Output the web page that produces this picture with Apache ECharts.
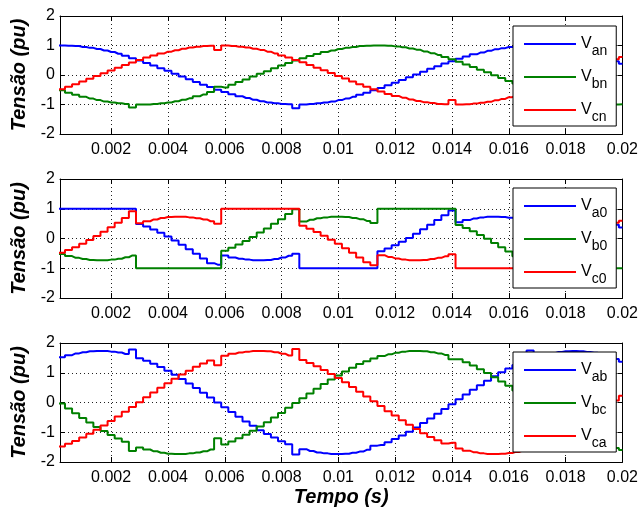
<!DOCTYPE html>
<html><head><meta charset="utf-8">
<script src="https://cdn.jsdelivr.net/npm/echarts@6/dist/echarts.min.js"></script>
<style>html,body{margin:0;padding:0;background:#fff}#c{width:641px;height:513px}</style>
</head><body><div id="c"></div>
<script>
// time samples (s)
const time = [0,0.00025,0.0005,0.00075,0.001,0.00125,0.0015,0.00175,0.002,0.00225,
0.0025,0.00275,0.003,0.00325,0.0035,0.00375,0.004,0.00425,0.0045,0.00475,
0.005,0.00525,0.0055,0.00575,0.006,0.00625,0.0065,0.00675,0.007,0.00725,
0.0075,0.00775,0.008,0.00825,0.0085,0.00875,0.009,0.00925,0.0095,0.00975,
0.01,0.01025,0.0105,0.01075,0.011,0.01125,0.0115,0.01175,0.012,0.01225,
0.0125,0.01275,0.013,0.01325,0.0135,0.01375,0.014,0.01425,0.0145,0.01475,
0.015,0.01525,0.0155,0.01575,0.016,0.01625,0.0165,0.01675,0.017,0.01725,
0.0175,0.01775,0.018,0.01825,0.0185,0.01875,0.019,0.01925,0.0195,0.01975,0.02];

// Panel 1: phase voltages
const vAn = [1.00,1.00,0.99,0.98,0.95,0.92,0.88,0.83,0.78,0.72,
0.65,0.57,0.49,0.41,0.32,0.23,0.14,0.04,-0.05,-0.14,
-0.24,-0.33,-0.41,-0.50,-0.58,-0.65,-0.72,-0.78,-0.84,-0.89,
-0.93,-0.96,-0.98,-0.99,-1.13,-1.00,-0.98,-0.96,-0.93,-0.90,
-0.85,-0.80,-0.74,-0.67,-0.60,-0.52,-0.44,-0.35,-0.26,-0.17,
-0.08,0.02,0.11,0.21,0.30,0.39,0.47,0.55,0.63,0.70,
0.76,0.82,0.87,0.91,0.95,0.97,0.99,1.08,1.00,0.99,
0.97,0.95,0.91,0.87,0.82,0.76,0.69,0.62,0.55,0.47,0.38];
const vBn = [-0.43,-0.52,-0.60,-0.67,-0.74,-0.80,-0.85,-0.90,-0.93,-0.96,
-0.98,-1.10,-1.00,-1.00,-0.98,-0.96,-0.93,-0.89,-0.84,-0.79,
-0.72,-0.66,-0.58,-0.40,-0.42,-0.33,-0.24,-0.15,-0.05,0.04,
0.13,0.23,0.32,0.41,0.49,0.57,0.64,0.71,0.78,0.83,
0.88,0.92,0.95,0.98,0.99,1.00,1.00,0.99,0.97,0.94,
0.90,0.86,0.80,0.74,0.68,0.61,0.53,0.45,0.36,0.27,
0.18,0.09,-0.01,-0.10,-0.20,-0.29,-0.38,-0.46,-0.54,-0.62,
-0.69,-0.76,-0.81,-0.87,-0.91,-0.94,-0.97,-0.99,-1.00,-1.00,-0.99];
const vCn = [-0.56,-0.48,-0.40,-0.31,-0.22,-0.13,-0.03,0.06,0.15,0.25,
0.34,0.42,0.51,0.59,0.66,0.73,0.79,0.84,0.89,0.93,
0.96,0.98,0.99,0.85,1.00,0.98,0.96,0.93,0.89,0.85,
0.79,0.73,0.66,0.59,0.51,0.43,0.34,0.25,0.16,0.07,
-0.03,-0.12,-0.22,-0.31,-0.40,-0.48,-0.56,-0.64,-0.71,-0.77,
-0.83,-0.88,-0.92,-0.95,-0.98,-0.99,-0.85,-1.00,-0.99,-0.97,
-0.94,-0.91,-0.86,-0.81,-0.75,-0.69,-0.62,-0.54,-0.46,-0.37,
-0.28,-0.19,-0.10,0.00,0.09,0.19,0.28,0.37,0.45,0.53,0.61];

// Panel 2: pole voltages
const vA0 = [1,1,1,1,1,1,1,1,1,1,1,1,
0.49,0.40,0.30,0.19,0.07,-0.07,-0.21,-0.36,-0.51,-0.67,-0.83,-0.88,
-0.57,-0.64,-0.68,-0.71,-0.73,-0.73,-0.72,-0.69,-0.64,-0.58,-0.51,
-1,-1,-1,-1,-1,-1,-1,-1,-1,-1,-1,
-0.43,-0.34,-0.23,-0.11,0.02,0.16,0.31,0.46,0.62,0.78,0.94,
0.55,0.62,0.67,0.71,0.73,0.73,0.72,0.70,0.66,0.61,0.54,
1,1,1,1,1,1,1,1,1,1,1,
0.46,0.37];
const vB0 = [-0.43,-0.52,-0.59,-0.65,-0.69,-0.72,-0.73,-0.73,-0.71,-0.68,-0.63,-0.57,
-1,-1,-1,-1,-1,-1,-1,-1,-1,-1,-1,-1,
-0.41,-0.31,-0.20,-0.08,0.05,0.20,0.34,0.50,0.65,0.82,0.98,
0.57,0.63,0.68,0.71,0.73,0.73,0.72,0.69,0.65,0.59,0.52,
1,1,1,1,1,1,1,1,1,1,1,
0.45,0.35,0.24,0.12,-0.01,-0.15,-0.29,-0.44,-0.60,-0.76,-0.93,
-0.54,-0.61,-0.66,-0.70,-0.72,-0.73,-0.72,-0.70,-0.67,-0.61,-0.55,
-1,-1];
const vC0 = [-0.56,-0.48,-0.39,-0.29,-0.18,-0.05,0.08,0.23,0.38,0.53,0.69,0.92,
0.51,0.58,0.64,0.69,0.72,0.73,0.73,0.71,0.68,0.64,0.58,0.50,
1,1,1,1,1,1,1,1,1,1,1,
0.43,0.33,0.22,0.09,-0.04,-0.18,-0.33,-0.48,-0.64,-0.80,-0.90,
-0.56,-0.62,-0.67,-0.71,-0.73,-0.73,-0.72,-0.69,-0.65,-0.60,-0.53,
-1,-1,-1,-1,-1,-1,-1,-1,-1,-1,-1,
-0.46,-0.36,-0.25,-0.13,-0.01,0.13,0.28,0.43,0.58,0.74,0.91,
0.53,0.60];

// Panel 3: line voltages
const vAb = [1.43,1.52,1.59,1.65,1.69,1.72,1.73,1.73,1.71,1.68,
1.63,1.78,1.49,1.40,1.30,1.19,1.07,0.93,0.79,0.64,
0.49,0.33,0.17,0.00,-0.16,-0.32,-0.48,-0.64,-0.78,-0.93,
-1.06,-1.18,-1.30,-1.40,-1.75,-1.57,-1.63,-1.68,-1.71,-1.73,
-1.73,-1.72,-1.69,-1.65,-1.59,-1.45,-1.43,-1.34,-1.23,-1.11,
-0.98,-0.84,-0.69,-0.54,-0.38,-0.22,-0.06,0.11,0.27,0.43,
0.58,0.73,0.88,1.02,1.14,1.26,1.37,1.75,1.54,1.61,
1.66,1.70,1.72,1.73,1.72,1.70,1.67,1.61,1.55,1.46,1.37];
const vBc = [0.13,-0.03,-0.20,-0.36,-0.52,-0.67,-0.82,-0.96,-1.09,-1.21,
-1.32,-1.63,-1.51,-1.58,-1.64,-1.69,-1.72,-1.73,-1.73,-1.71,
-1.68,-1.64,-1.58,-1.20,-1.41,-1.31,-1.20,-1.08,-0.95,-0.81,
-0.66,-0.50,-0.35,-0.18,-0.02,0.14,0.30,0.46,0.62,0.77,
0.91,1.04,1.17,1.29,1.39,1.48,1.56,1.62,1.67,1.71,
1.73,1.73,1.72,1.69,1.65,1.60,1.45,1.45,1.35,1.24,
1.12,0.99,0.85,0.71,0.56,0.40,0.24,0.08,-0.09,-0.25,
-0.41,-0.57,-0.72,-0.86,-1.00,-1.13,-1.25,-1.36,-1.45,-1.53,-1.60];
const vCa = [-1.56,-1.48,-1.39,-1.29,-1.18,-1.05,-0.92,-0.77,-0.62,-0.47,
-0.31,-0.15,0.01,0.18,0.34,0.50,0.65,0.80,0.94,1.07,
1.20,1.31,1.41,1.25,1.57,1.64,1.68,1.71,1.73,1.73,
1.72,1.69,1.64,1.58,1.80,1.43,1.33,1.22,1.09,0.96,
0.82,0.68,0.52,0.36,0.20,0.04,-0.12,-0.29,-0.44,-0.60,
-0.75,-0.89,-1.03,-1.16,-1.27,-1.38,-1.35,-1.55,-1.62,-1.67,
-1.71,-1.73,-1.73,-1.72,-1.70,-1.66,-1.61,-1.54,-1.46,-1.36,
-1.25,-1.13,-1.01,-0.87,-0.72,-0.57,-0.42,-0.26,-0.09,0.07,0.23];

const panels = [
  {names:['Van','Vbn','Vcn'], values:[vAn,vBn,vCn]},
  {names:['Va0','Vb0','Vc0'], values:[vA0,vB0,vC0]},
  {names:['Vab','Vbc','Vca'], values:[vAb,vBc,vCa]}
];
const colors = ['#0000ff','#008000','#ff0000'];
const xMin = 0.0002, xMax = 0.02;
const yTickMin = -2, yTickMax = 2, yTickStep = 1;
const yLabel = 'Tensão (pu)', xLabel = 'Tempo (s)';

const font = "'Liberation Sans', Arial, sans-serif";
const gridTops = [16, 179, 343];
const gridH = [118, 119, 119];
const legendTops = [26, 188, 352];

const grid = [], xAxis = [], yAxis = [], series = [], legend = [];
panels.forEach((p, gi) => {
  grid.push({left:60, right:18, top:gridTops[gi], height:gridH[gi], containLabel:false});
  const nameStyle = {fontSize:20, fontStyle:'italic', fontWeight:'bold', color:'#000', fontFamily:font};
  xAxis.push({
    type:'value', gridIndex:gi, position:'bottom', min:xMin, max:xMax, splitNumber:10,
    axisLine:{show:true, onZero:false, lineStyle:{color:'#000', width:1}},
    axisTick:{show:true, inside:true, length:5, lineStyle:{color:'#000'}},
    axisLabel:{show:true, color:'#000', fontSize:16, fontFamily:font, margin:8, showMinLabel:false,
      formatter: v => String(+v.toFixed(4))},
    splitLine:{show:true, lineStyle:{color:'#222', type:[1,3], width:1}},
    name: gi === 2 ? xLabel : '', nameLocation:'middle', nameGap:25, nameTextStyle:nameStyle
  });
  xAxis.push({
    type:'value', gridIndex:gi, position:'top', min:xMin, max:xMax, splitNumber:10,
    axisLine:{show:true, onZero:false, lineStyle:{color:'#000', width:1}},
    axisTick:{show:true, inside:true, length:5, lineStyle:{color:'#000'}},
    axisLabel:{show:false}, splitLine:{show:false}
  });
  yAxis.push({
    type:'value', gridIndex:gi, position:'left', min:yTickMin, max:yTickMax, interval:yTickStep,
    axisLine:{show:true, onZero:false, lineStyle:{color:'#000', width:1}},
    axisTick:{show:true, inside:true, length:5, lineStyle:{color:'#000'}},
    axisLabel:{show:true, color:'#000', fontSize:16, fontFamily:font, margin:5},
    splitLine:{show:true, lineStyle:{color:'#222', type:[1,3], width:1}},
    name:yLabel, nameLocation:'middle', nameGap:27, nameTextStyle:nameStyle
  });
  yAxis.push({
    type:'value', gridIndex:gi, position:'right', min:yTickMin, max:yTickMax, interval:yTickStep,
    axisLine:{show:true, onZero:false, lineStyle:{color:'#000', width:1}},
    axisTick:{show:true, inside:true, length:5, lineStyle:{color:'#000'}},
    axisLabel:{show:false}, splitLine:{show:false}
  });
  p.names.forEach((n, k) => {
    series.push({
      type:'line', name:n, xAxisIndex:gi*2, yAxisIndex:gi*2, step:'middle',
      symbol:'none', clip:true, color:colors[k],
      lineStyle:{width:2, color:colors[k]},
      data: time.map((t, j) => [t, p.values[k][j]])
    });
  });
  legend.push({
    data:p.names, orient:'vertical', left:513, top:legendTops[gi],
    icon:'rect', itemWidth:52, itemHeight:2, itemGap:11,
    padding:[10,9,2,11], borderColor:'#000', borderWidth:1, backgroundColor:'#fff',
    selectedMode:false,
    formatter: n => '{v|V}{s|' + n.slice(1) + '}',
    textStyle:{color:'#000', rich:{
      v:{fontSize:16, lineHeight:28, fontFamily:font, color:'#000'},
      s:{fontSize:14, lineHeight:13, verticalAlign:'bottom', fontFamily:font, color:'#000'}
    }}
  });
});

const chart = echarts.init(document.getElementById('c'), null, {renderer:'canvas'});
chart.setOption({animation:false, backgroundColor:'#fff', grid, xAxis, yAxis, series, legend});
</script>
</body></html>
